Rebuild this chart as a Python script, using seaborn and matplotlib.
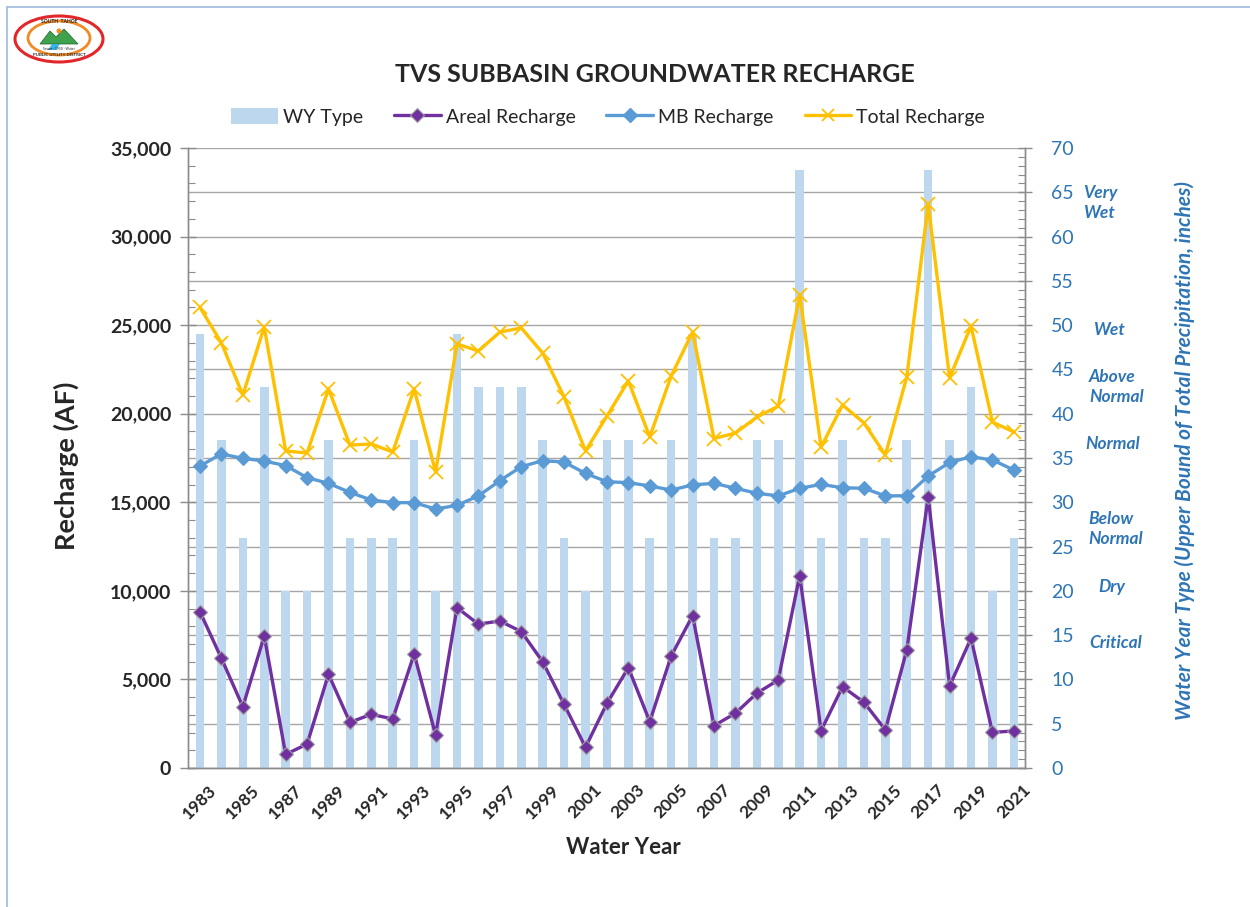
import numpy as np
import pandas as pd
import matplotlib
matplotlib.use("Agg")
import matplotlib.pyplot as plt
import seaborn as sns
from matplotlib.patches import Patch, Ellipse, Polygon
from matplotlib.lines import Line2D
from matplotlib.ticker import MultipleLocator, FuncFormatter
import matplotlib.transforms as mtransforms

# ---------------- data ----------------
years = list(range(1983, 2022))
wy_type = [49, 37, 26, 43, 20, 20, 37, 26, 26, 26, 37, 20, 49, 43, 43, 43, 37, 26, 20, 37,
           37, 26, 37, 49, 26, 26, 37, 37, 67.5, 26, 37, 26, 26, 37, 67.5, 37, 43, 20, 26]
areal = [8820, 6190, 3460, 7450, 770, 1350, 5290, 2580, 3030, 2770, 6440, 1860, 9050, 8120,
         8300, 7700, 6000, 3590, 1170, 3650, 5660, 2620, 6320, 8600, 2390, 3090, 4220, 4970,
         10860, 2110, 4590, 3710, 2150, 6660, 15320, 4630, 7320, 2010, 2090]
mb = [17050, 17730, 17480, 17330, 17070, 16390, 16070, 15560, 15130, 14980, 14980, 14620,
      14830, 15360, 16220, 17010, 17350, 17270, 16630, 16160, 16110, 15920, 15690, 15980,
      16070, 15790, 15510, 15360, 15790, 16010, 15820, 15790, 15360, 15370, 16480, 17250,
      17570, 17390, 16820]
total = [26000, 24000, 21050, 24900, 17900, 17780, 21400, 18230, 18290, 17840, 21400, 16710,
         23940, 23540, 24610, 24840, 23430, 20940, 17900, 19870, 21850, 18690, 22130, 24610,
         18600, 18910, 19810, 20430, 26700, 18120, 20490, 19480, 17670, 22070, 31840, 22020,
         24950, 19530, 18970]
wy_labels = ["Very\nWet", "Wet", "Above\nNormal", "Normal", "Below\nNormal", "Dry", "Critical"]
wy_label_pos = [63.8, 49.5, 43.0, 36.6, 27.0, 20.4, 14.1]

df = pd.DataFrame({"year": years, "wy": wy_type, "areal": areal, "mb": mb, "total": total})

# ---------------- style ----------------
sns.set_style("white")
plt.rcParams["font.family"] = ["Lato", "DejaVu Sans"]

C_BAR = "#BDD7EE"
C_AREAL = "#7030A0"
C_MB = "#5B9BD5"
C_TOT = "#FFC000"
C_BLUE = "#2E75B6"
C_GRID = "#A6A6A6"
C_SPINE = "#8C8C8C"

W, H = 1250, 907
fig = plt.figure(figsize=(W / 100, H / 100), dpi=100)
L, R, T, B = 188, 1025, 148, 768
ax = fig.add_axes([L / W, 1 - B / H, (R - L) / W, (B - T) / H])
ax2 = ax.twinx()

# bars on right axis (drawn behind lines)
sns.barplot(data=df, x="year", y="wy", ax=ax2, color=C_BAR, width=0.4,
            native_scale=True, saturation=1, edgecolor="none", zorder=2)
ax2.set_ylim(0, 70)
ax2.yaxis.set_major_locator(MultipleLocator(5))
ax2.yaxis.set_minor_locator(MultipleLocator(1))
ax2.grid(True, axis="y", which="major", color=C_GRID, lw=1.0, zorder=0)
ax2.set_axisbelow(True)
ax2.set_ylabel("")
ax2.tick_params(axis="y", which="major", direction="inout", length=10, width=1,
                color=C_SPINE, labelcolor=C_BLUE, labelsize=14, pad=14)
ax2.tick_params(axis="y", which="minor", direction="in", length=5, width=0.8, color=C_SPINE)

# lines on left axis
sns.lineplot(data=df, x="year", y="areal", ax=ax, color=C_AREAL, lw=2.4, marker="D",
             markersize=7, markeredgecolor="#9E9E9E", markeredgewidth=0.8, zorder=5)
sns.lineplot(data=df, x="year", y="mb", ax=ax, color=C_MB, lw=2.4, marker="D",
             markersize=7, markeredgecolor=C_MB, markeredgewidth=0.8, zorder=5)
sns.lineplot(data=df, x="year", y="total", ax=ax, color=C_TOT, lw=2.4, marker="x",
             markersize=10, markeredgecolor=C_TOT, markeredgewidth=1.3, zorder=6)

ax.set_zorder(ax2.get_zorder() + 1)
ax.patch.set_visible(False)

ax.set_ylim(0, 35000)
ax.set_xlim(years[0] - 0.56, years[-1] + 0.52)
ax.yaxis.set_major_locator(MultipleLocator(5000))
ax.yaxis.set_minor_locator(MultipleLocator(1000))
ax.yaxis.set_major_formatter(FuncFormatter(lambda v, p: f"{int(v):,}"))
ax.tick_params(axis="y", which="major", direction="inout", length=12, width=1,
               color=C_SPINE, labelsize=14, pad=6)
ax.tick_params(axis="y", which="minor", direction="in", length=5, width=0.8, color=C_SPINE)
for lab in ax.get_yticklabels():
    lab.set_fontweight("bold")

ax.set_xticks(years[::2])
ax.set_xticklabels([str(y) for y in years[::2]], rotation=45, ha="center", va="top",
                   fontweight="bold", fontsize=12.5)
ax.set_xticks([y + 0.5 for y in years[:-1]] + [years[0] - 0.5], minor=True)
ax.tick_params(axis="x", which="major", length=0, pad=10)
ax.tick_params(axis="x", which="minor", direction="out", length=6, width=1, color=C_SPINE)
ax.set_xlabel("")
ax.set_ylabel("")

for a in (ax, ax2):
    for s in a.spines.values():
        s.set_color(C_SPINE)
        s.set_linewidth(1.0)
    a.spines["top"].set_visible(False)

# WY type annotations to the right of the right axis
wy_label_x = [1083, 1093, 1089, 1085, 1088, 1098, 1089]
trans = mtransforms.blended_transform_factory(ax2.transAxes, ax2.transData)
for txt, yv, xp in zip(wy_labels, wy_label_pos, wy_label_x):
    ax2.text((xp - L) / (R - L), yv, txt, transform=trans, color=C_BLUE,
             fontsize=12.5, fontweight="bold", fontstyle="italic",
             ha="left", va="center", linespacing=1.3, multialignment="left")

# titles / axis labels
fig.text(655 / W, 1 - 75 / H, "TVS SUBBASIN GROUNDWATER RECHARGE", ha="center",
         va="center", fontsize=18, fontweight="bold")
fig.text(66 / W, 1 - 466 / H, "Recharge (AF)", rotation=90, ha="center", va="center",
         fontsize=19.5, fontweight="bold")
fig.text(623 / W, 1 - 848 / H, "Water Year", ha="center", va="center",
         fontsize=16, fontweight="bold")
fig.text(1185 / W, 1 - 451 / H, "Water Year Type (Upper Bound of Total Precipitation, inches)",
         rotation=90, ha="center", va="center", fontsize=15, fontweight="bold",
         fontstyle="italic", color=C_BLUE)

# legend
handles = [
    Patch(facecolor=C_BAR, edgecolor="none"),
    Line2D([], [], color=C_AREAL, lw=2.4, marker="D", markersize=7,
           markeredgecolor="#9E9E9E", markeredgewidth=0.8),
    Line2D([], [], color=C_MB, lw=2.4, marker="D", markersize=7),
    Line2D([], [], color=C_TOT, lw=2.4, marker="x", markersize=9, markeredgewidth=1.3),
]
labels = ["WY Type", "Areal Recharge", "MB Recharge", "Total Recharge"]
fig.legend(handles, labels, loc="center", bbox_to_anchor=(608 / W, 1 - 117 / H), ncol=4,
           frameon=False, fontsize=14, handlelength=2.4, handletextpad=0.25,
           columnspacing=1.6, handleheight=0.9)

# page border lines
fig.add_artist(Line2D([7 / W, 1], [1 - 7 / H, 1 - 7 / H], transform=fig.transFigure,
                      color="#9DBCDD", lw=1.2))
fig.add_artist(Line2D([7 / W, 7 / W], [0, 1 - 7 / H], transform=fig.transFigure,
                      color="#9DBCDD", lw=1.2))

# simplified district logo
lax = fig.add_axes([12 / W, 1 - 64 / H, 94 / W, 50 / H])
lax.set_xlim(0, 94)
lax.set_ylim(0, 50)
lax.axis("off")
lax.add_patch(Ellipse((47, 25), 88, 46, facecolor="white", edgecolor="#E3262A", lw=2.2))
lax.add_patch(Ellipse((47, 26), 62, 34, facecolor="white", edgecolor="#F08A24", lw=2.0))
lax.add_patch(Polygon([[28, 20], [38, 33], [44, 27], [52, 35], [66, 20]], closed=True,
                      facecolor="#3FA34D", edgecolor="#1E5E2A", lw=0.5))
lax.add_patch(Polygon([[40, 20], [48, 20], [44, 14], [36, 14]], closed=True,
                      facecolor="#39B3E0", edgecolor="none"))
lax.add_patch(Ellipse((47, 33), 5, 5, facecolor="#F08A24", edgecolor="none"))
lax.text(47, 42.5, "SOUTH  TAHOE", ha="center", va="center", fontsize=3.6,
         fontweight="bold", color="#222222")
lax.text(47, 9.5, "PUBLIC UTILITY DISTRICT", ha="center", va="center", fontsize=3.2,
         fontweight="bold", color="#222222")
lax.text(47, 15, "Sewer · 1950 · Water", ha="center", va="center", fontsize=2.4,
         color="#222222")

fig.savefig("out.png", dpi=100)
